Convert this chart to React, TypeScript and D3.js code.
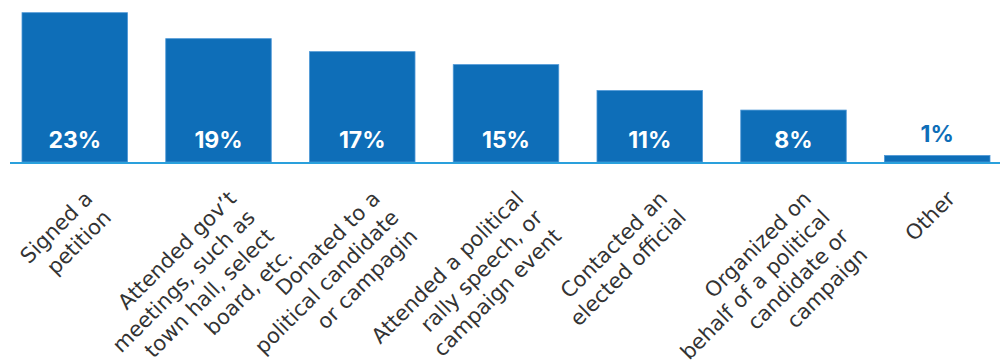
import React from "react";
import * as d3 from "d3";

const categories: string[][] = [
  ["Signed a", "petition"],
  ["Attended gov’t", "meetings, such as", "town hall, select", "board, etc."],
  ["Donated to a", "political candidate", "or campagin"],
  ["Attended a political", "rally speech, or", "campaign event"],
  ["Contacted an", "elected official"],
  ["Organized on", "behalf of a political", "candidate or", "campaign"],
  ["Other"],
];
const values: number[] = [23, 19, 17, 15, 11, 8, 1];
const valueLabels: string[] = ["23%", "19%", "17%", "15%", "11%", "8%", "1%"];

const W = 1000;
const H = 360;
const BASE = 162;
const BAR = "#0e6eb8";
const AXIS = "#2aa0dc";
const TEXT = "#333333";

export default function App() {
  const keys = categories.map((c) => c.join(" "));
  const x = d3.scaleBand<string>().domain(keys).range([22, 990]).paddingInner(0.266).paddingOuter(0);
  const y = d3.scaleLinear().domain([0, 24.8]).range([BASE, 1]);
  const fs = 21;
  const lh = 26.5;

  return (
    <svg
      width={W}
      height={H}
      style={{ position: "absolute", left: 0, top: 0, background: "#fff" }}
      xmlns="http://www.w3.org/2000/svg"
    >
      {values.map((v, i) => {
        const k = keys[i];
        const bx = x(k)!;
        const bw = x.bandwidth();
        const top = y(v);
        const h = y(0) - top;
        const inside = h > 30;
        return (
          <g key={k}>
            <rect x={bx} y={top} width={bw} height={h} fill={BAR} stroke="#4d97d6" strokeWidth={0.8} />
            <text
              x={bx + bw / 2}
              y={inside ? y(0) - 14 : top - 14}
              textAnchor="middle"
              fontFamily="Inter, Roboto, sans-serif"
              fontWeight={700}
              fontSize={23}
              fill={inside ? "#ffffff" : BAR}
            >
              {valueLabels[i]}
            </text>
          </g>
        );
      })}
      <line x1={10} x2={1000} y1={BASE + 1} y2={BASE + 1} stroke={AXIS} strokeWidth={2} />
      {categories.map((lines, i) => {
        const cx = x(keys[i])! + x.bandwidth() / 2;
        return (
          <g key={"l" + i} transform={`translate(${cx + 19},${200}) rotate(-45)`}>
            <text
              textAnchor="end"
              fontFamily="DejaVu Sans, sans-serif"
              fontSize={fs}
              fill={TEXT}
            >
              {lines.map((l, j) => (
                <tspan key={j} x={0} y={j * lh}>
                  {l}
                </tspan>
              ))}
            </text>
          </g>
        );
      })}
    </svg>
  );
}
